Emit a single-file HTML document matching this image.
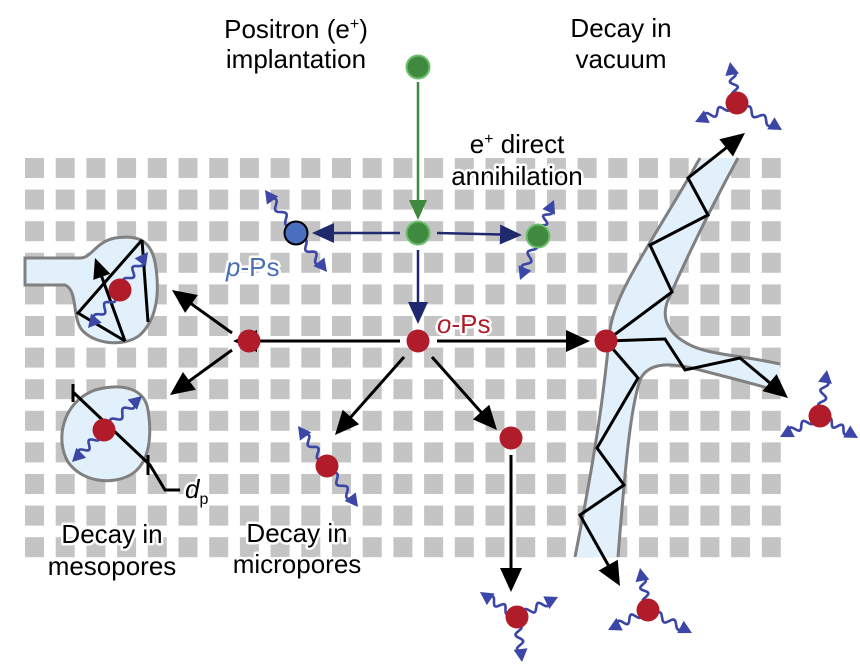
<!DOCTYPE html>
<html><head><meta charset="utf-8"><style>
html,body{margin:0;padding:0;background:#fff;}
svg{display:block;}
text{font-family:"Liberation Sans",sans-serif;font-size:26px;paint-order:stroke;stroke:#fff;stroke-width:5px;stroke-linejoin:round;}
</style></head><body>
<svg id="s" width="860" height="671" viewBox="0 0 860 671" xmlns="http://www.w3.org/2000/svg">
<g id="grid" fill="#c4c4c4"></g>
<path d="M700,158 C660,230 615,290 610,330 C605,380 600,430 575,557 L618,557 C625,470 630,410 640,380 C648,362 670,362 700,370 C730,378 760,385 780,392 L780,364 C740,355 710,355 690,345 C670,335 660,320 668,300 C690,250 715,200 738,158 Z" fill="#e2f0fb"/>
<path d="M700,158 C660,230 615,290 610,330 C605,380 600,430 575,557" fill="none" stroke="#808080" stroke-width="3"/>
<path d="M618,557 C625,470 630,410 640,380 C648,362 670,362 700,370 C730,378 760,385 780,392" fill="none" stroke="#808080" stroke-width="3"/>
<path d="M780,364 C740,355 710,355 690,345 C670,335 660,320 668,300 C690,250 715,200 738,158" fill="none" stroke="#808080" stroke-width="3"/>
<path d="M25,258 L80,258 C92,258 95,242 115,238 C135,235 150,238 155,262 C160,290 158,318 140,335 C125,347 95,345 82,330 C72,318 78,290 65,285 L25,285 Z" fill="#e2f0fb" stroke="#808080" stroke-width="3"/>
<path d="M95,390 C125,382 145,390 148,410 C152,435 150,462 132,474 C112,486 82,482 68,462 C55,440 62,402 95,390 Z" fill="#e2f0fb" stroke="#808080" stroke-width="3"/>
<g id="lines" fill="none" stroke="#000" stroke-width="3" stroke-linejoin="miter"></g>
<g id="waves"></g>
<g id="dots"></g>
<text x="296" y="38" text-anchor="middle">Positron (e<tspan dy="-9" font-size="16">+</tspan><tspan dy="9">)</tspan></text>
<text x="296" y="68" text-anchor="middle">implantation</text>
<text x="621" y="37" text-anchor="middle">Decay in</text>
<text x="621" y="68" text-anchor="middle">vacuum</text>
<text x="517" y="153" text-anchor="middle">e<tspan dy="-9" font-size="16">+</tspan><tspan dy="9"> direct</tspan></text>
<text x="517" y="185" text-anchor="middle">annihilation</text>
<text x="226" y="276" fill="#4a6fb5"><tspan font-style="italic">p</tspan>-Ps</text>
<text x="437" y="333" fill="#b01c2a"><tspan font-style="italic">o</tspan>-Ps</text>
<text x="112" y="543" text-anchor="middle">Decay in</text>
<text x="112" y="575" text-anchor="middle">mesopores</text>
<text x="297" y="542" text-anchor="middle">Decay in</text>
<text x="297" y="573" text-anchor="middle">micropores</text>
<text x="185" y="498" font-style="italic">d<tspan font-size="16" font-style="normal" dy="6">p</tspan></text>
</svg>
<script>
var NS="http://www.w3.org/2000/svg";
function el(p,t,a){var e=document.createElementNS(NS,t);for(var k in a)e.setAttribute(k,a[k]);document.getElementById(p).appendChild(e);return e;}
for(var c=0;c<25;c++)for(var r=0;r<13;r++)el("grid","rect",{x:(25+c*30.7).toFixed(1),y:(158+r*31.6).toFixed(1),width:19,height:20});
function head(p,x1,y1,x2,y2,col,L,W){var dx=x2-x1,dy=y2-y1,d=Math.hypot(dx,dy),ux=dx/d,uy=dy/d;var bx=x2-ux*L,by=y2-uy*L;
el(p,"path",{d:"M"+x2+","+y2+" L"+(bx-uy*W)+","+(by+ux*W)+" L"+(bx+uy*W)+","+(by-ux*W)+" Z",fill:col,stroke:"none"});return [bx+ux*2,by+uy*2];}
function arrow(pts,col,L,W,sw){col=col||"#000";L=L||24;W=W||11;var n=pts.length;var b=head("lines",pts[n-2][0],pts[n-2][1],pts[n-1][0],pts[n-1][1],col,L,W);
var d="M"+pts[0].join(",");for(var i=1;i<n-1;i++)d+=" L"+pts[i].join(",");d+=" L"+b.join(",");el("lines","path",{d:d,stroke:col,"stroke-width":sw||3});}
function poly(pts){var d="M"+pts[0].join(",");for(var i=1;i<pts.length;i++)d+=" L"+pts[i].join(",");el("lines","path",{d:d});}
function wave(x1,y1,x2,y2){var dx=x2-x1,dy=y2-y1,d=Math.hypot(dx,dy),ux=dx/d,uy=dy/d;var L=d-10,s="";
for(var t=0;t<=L;t+=1){var o=Math.sin(t/L*Math.PI*5)*3.5;var x=x1+ux*t-uy*o,y=y1+uy*t+ux*o;s+=(t?" L":"M")+x.toFixed(1)+","+y.toFixed(1);}
el("waves","path",{d:s,fill:"none",stroke:"#3b46a6","stroke-width":2.6});
var bx=x2-ux*13,by=y2-uy*13;el("waves","path",{d:"M"+x2+","+y2+" L"+(bx-uy*7)+","+(by+ux*7)+" L"+(bx+uy*7)+","+(by-ux*7)+" Z",fill:"#3b46a6"});}
function dot(x,y,f,s){el("dots","circle",{cx:x,cy:y,r:11.5,fill:f,stroke:s||"none","stroke-width":s?2:0});}
var R="#b01c2a",G="#3f8a3f",B="#1f2a6e";
arrow([[418,82],[418,220]],G,20,9,2.5);
arrow([[400,233],[312,233]],B,22,10,2.5);
arrow([[437,233],[522,235]],B,22,10,2.5);
arrow([[418,250],[418,324]],B,22,10,2.5);
arrow([[400,341],[233,341]]);
arrow([[437,341],[590,341]]);
arrow([[232,333],[172,290]]);
arrow([[232,350],[170,395]]);
arrow([[404,357],[335,435]]);
arrow([[432,357],[497,430]]);
arrow([[511,455],[511,592]]);
arrow([[606,341],[672,292],[650,245],[708,215],[688,178],[745,133]]);
arrow([[606,341],[665,339],[685,370],[740,358],[788,398]]);
arrow([[606,341],[638,378],[597,448],[624,485],[580,515],[620,586]]);
poly([[142,240],[78,313],[125,341]]);
arrow([[125,341],[95,258]],"#000",20,9);
poly([[142,240],[148,322]]);
poly([[73,392],[150,465],[165,490],[180,490]]);
poly([[73,384],[73,402]]);poly([[148,455],[148,475]]);
wave(296,233,265,190);wave(296,233,327,272);
wave(538,236,554,200);wave(538,236,520,280);
wave(120,290,148,252);wave(120,290,88,328);
wave(104,430,142,396);wave(104,430,72,462);
wave(327,466,298,426);wave(327,466,358,507);
wave(517,617,480,592);wave(517,617,558,597);wave(517,617,522,662);
wave(737,103,730,62);wave(737,103,695,122);wave(737,103,782,130);
wave(820,416,827,370);wave(820,416,780,437);wave(820,416,858,438);
wave(648,610,640,568);wave(648,610,608,630);wave(648,610,692,633);
dot(418,67,G,"#6bbf6b");dot(418,233,G,"#6bbf6b");dot(538,236,G,"#6bbf6b");
dot(296,233,"#4a6fc0","#000");
dot(418,341,R);dot(249,341,R);dot(606,341,R);dot(120,290,R);dot(104,430,R);
dot(327,466,R);dot(511,438,R);dot(517,617,R);dot(737,103,R);dot(820,416,R);dot(648,610,R);
</script>
</body></html>
